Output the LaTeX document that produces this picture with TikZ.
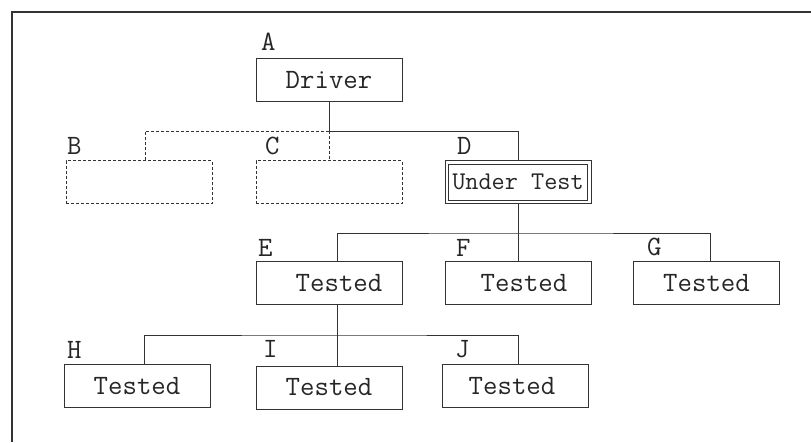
\documentclass[tikz,border=0pt]{standalone}
\usepackage{fontspec}
\begin{document}
\begin{tikzpicture}[x=1pt,y=-1pt,
  every node/.style={font=\ttfamily\fontsize{28}{32}\selectfont, text=black!85},
  box/.style={draw=black!80, line width=0.9pt, rectangle,
    minimum width=146pt, minimum height=43pt, inner sep=0pt},
  ghost/.style={box, dash pattern=on 3pt off 2pt},
  link/.style={draw=black!80, line width=0.9pt},
  ghostlink/.style={link, dash pattern=on 3pt off 2pt},
  tag/.style={anchor=base west, inner sep=0pt},
  frame/.style={draw=black!80, line width=1.2pt}]
\useasboundingbox (0,0) rectangle (811,442);

% open frame: top and left edges only
\draw[frame] (12,442) -- (12,12) -- (811,12);

% level 0
\node[box] (A) at (329,80) {Driver};
% level 1
\node[ghost] (B) at (139,182) {};
\node[ghost] (C) at (329,182) {};
\node[box] (D) at (518,182) {};
\node[draw=black!80, line width=0.9pt, minimum width=139pt, minimum height=36pt,
  inner sep=0pt, font=\ttfamily\fontsize{25.5}{30}\selectfont] (Din) at (D.center) {Under Test};
% level 2
\node[box] (E) at (329,283) {\hspace*{20pt}Tested};
\node[box] (F) at (518,283) {\hspace*{12pt}Tested};
\node[box] (G) at (706.5,283) {Tested};
% level 3
\node[box] (H) at (137,386) {Tested};
\node[box] (I) at (329,387.5) {Tested};
\node[box] (J) at (515,386) {Tested\hspace*{6pt}};

% letter tags
\node[tag] (tA) at (261,50) {A};
\node[tag] (tB) at (67,154) {B};
\node[tag] (tC) at (265,154) {C};
\node[tag] (tD) at (457,154) {D};
\node[tag] (tE) at (258,256) {E};
\node[tag] (tF) at (456,256) {F};
\node[tag] (tG) at (647,255) {G};
\node[tag] (tH) at (67,358) {H};
\node[tag] (tI) at (263,357) {I};
\node[tag] (tJ) at (455,357) {J};

% bus junctions
\coordinate (b1) at (329,131);
\coordinate (b2) at (518,233);
\coordinate (b3) at (337,335);

% connectors
\draw[link] (A.south) -- (b1);
\draw[ghostlink] (b1) -| ([xshift=6pt]B.north);
\draw[ghostlink] (b1) -- (C.north);
\draw[link] (b1) -| (D.north);
\draw[link] (D.south) -- (F.north);
\draw[link] ([xshift=8pt]E.north) |- (b2) -| ([xshift=3.5pt]G.north);
\draw[link] ([xshift=8pt]E.south) -- ([xshift=8pt]I.north);
\draw[link] ([xshift=7pt]H.north) |- (b3) -| ([xshift=3pt]J.north);
\end{tikzpicture}
\end{document}
